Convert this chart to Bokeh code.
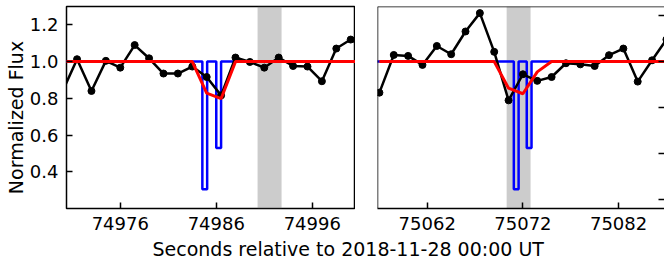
from bokeh.plotting import figure
from bokeh.models import (Range1d, FixedTicker, BoxAnnotation, Span, Label,
                          CustomJSTickFormatter, PrintfTickFormatter)
from bokeh.layouts import row, column
from bokeh.embed import file_html
from bokeh.resources import INLINE

FONT = "DejaVu Sans"

# ---------------- data: left event ----------------
t_left = [74970.0, 74971.5, 74973.0, 74974.5, 74976.0, 74977.5, 74979.0, 74980.5,
          74982.0, 74983.5, 74985.0, 74986.5, 74988.0, 74989.5, 74991.0, 74992.5,
          74994.0, 74995.5, 74997.0, 74998.5, 75000.0, 75001.5]
flux_left = [0.84, 1.013, 0.84, 1.004, 0.967, 1.09, 1.018, 0.935,
             0.935, 0.973, 0.916, 0.816, 1.022, 0.998, 0.967, 1.022,
             0.976, 0.973, 0.893, 1.071, 1.12, 1.08]
model_left = [1.0, 1.0, 1.0, 1.0, 1.0, 1.0, 1.0, 1.0,
              1.0, 1.0, 0.828, 0.798, 1.0, 1.0, 1.0, 1.0,
              1.0, 1.0, 1.0, 1.0, 1.0, 1.0]
step_x_left = [74969.0, 74984.55, 74985.05, 74986.0, 74986.5, 75002.0]
step_y_left = [1.0, 0.305, 1.0, 0.53, 1.0, 1.0]
band_left = [74990.3, 74992.8]
xticks_left = [74976, 74986, 74996]
yticks_left = [0.4, 0.6, 0.8, 1.0, 1.2]
xlim_left = [74970.4, 75000.5]

# ---------------- data: right event ----------------
t_right = [75057.0, 75058.5, 75060.0, 75061.5, 75063.0, 75064.5, 75066.0, 75067.5,
           75069.0, 75070.5, 75072.0, 75073.5, 75075.0, 75076.5, 75078.0, 75079.5,
           75081.0, 75082.5, 75084.0, 75085.5, 75087.0]
flux_right = [0.831, 1.036, 1.031, 0.982, 1.085, 1.04, 1.164, 1.264,
              1.053, 0.789, 0.931, 0.895, 0.916, 0.991, 0.985, 0.976,
              1.035, 1.071, 0.891, 1.007, 1.12]
model_right = [1.0, 1.0, 1.0, 1.0, 1.0, 1.0, 1.0, 1.0,
               1.0, 0.855, 0.825, 0.944, 1.0, 1.0, 1.0, 1.0,
               1.0, 1.0, 1.0, 1.0, 1.0]
step_x_right = [75055.0, 75071.05, 75071.55, 75072.4, 75072.9, 75088.0]
step_y_right = [1.0, 0.305, 1.0, 0.53, 1.0, 1.0]
band_right = [75070.3, 75072.8]
xticks_right = [75062, 75072, 75082]
yticks_right = [0.25, 0.5, 0.75, 1.0, 1.25]
xlim_right = [75056.8, 75086.8]

ylim = [0.2, 1.3]

x_label = "Seconds relative to 2018-11-28 00:00 UT"
y_label = "Normalized Flux"

TICK_FS = "18px"
LABEL_FS = "19px"


def style_axis(ax, ticks):
    ax.ticker = FixedTicker(ticks=ticks)
    ax.major_tick_in = 6
    ax.major_tick_out = 0
    ax.minor_tick_line_color = None
    ax.major_tick_line_width = 1.5
    ax.major_tick_line_color = "black"
    ax.major_label_text_font = FONT
    ax.major_label_text_font_size = TICK_FS
    ax.major_label_text_color = "black"


def draw(p, t, flux, model, sx, sy, band):
    p.add_layout(BoxAnnotation(left=band[0], right=band[1], fill_color="#808080",
                               fill_alpha=0.4, line_color=None, level="underlay"))
    p.step(sx, sy, mode="after", line_color="blue", line_width=2.5)
    p.line(t, flux, line_color="black", line_width=2.5)
    p.scatter(t, flux, size=7, fill_color="black", line_color="black")
    p.line(t, model, line_color="red", line_width=3)


def blank(width, height):
    b = figure(width=width, height=height, x_range=Range1d(0, width),
               y_range=Range1d(0, height), output_backend="svg",
               toolbar_location=None, x_axis_location=None, y_axis_location=None,
               min_border=0)
    b.grid.visible = False
    b.outline_line_color = None
    return b


# ---------------- left panel ----------------
p1 = figure(frame_width=289, frame_height=202,
            x_range=Range1d(*xlim_left), y_range=Range1d(*ylim),
            output_backend="svg", toolbar_location=None,
            min_border_left=40, min_border_right=0, min_border_top=6,
            min_border_bottom=31)
p1.grid.visible = False
p1.outline_line_color = "black"
p1.outline_line_width = 1.5
p1.outline_line_alpha = 1.0
style_axis(p1.xaxis[0], xticks_left)
style_axis(p1.yaxis[0], yticks_left)
p1.yaxis.formatter = PrintfTickFormatter(format="%.1f")
p1.xaxis.axis_line_color = None
p1.yaxis.axis_line_color = None
p1.xaxis.major_label_standoff = 8
p1.yaxis.major_label_standoff = 8
draw(p1, t_left, flux_left, model_left, step_x_left, step_y_left, band_left)

# ---------------- right panel ----------------
p2 = figure(frame_width=287, frame_height=202,
            x_range=Range1d(*xlim_right), y_range=Range1d(*ylim),
            output_backend="svg", toolbar_location=None,
            y_axis_location="right",
            min_border_left=22, min_border_right=0, min_border_top=6,
            min_border_bottom=31)
p2.grid.visible = False
p2.outline_line_color = None
style_axis(p2.xaxis[0], xticks_right)
style_axis(p2.yaxis[0], yticks_right)
p2.xaxis.axis_line_color = "black"
p2.xaxis.axis_line_width = 1.5
p2.xaxis.major_label_standoff = 8
p2.yaxis.axis_line_color = None
p2.yaxis.major_label_standoff = 0
p2.yaxis.formatter = CustomJSTickFormatter(code="return ''")
p2.add_layout(Span(location=ylim[1], dimension="width", line_color="black", line_width=1.5))
p2.add_layout(Span(location=xlim_right[0], dimension="height", line_color="black", line_width=1.5))
draw(p2, t_right, flux_right, model_right, step_x_right, step_y_right, band_right)

# ---------------- shared axis labels ----------------
p0 = blank(26, 262)
p0.add_layout(Label(x=15.5, y=145, text=y_label, angle=90, angle_units="deg",
                    text_align="center", text_baseline="alphabetic",
                    text_font=FONT, text_font_size=LABEL_FS, text_color="black"))

p3 = blank(638, 23)
p3.add_layout(Label(x=321.7, y=13.5, text=x_label,
                    text_align="center", text_baseline="alphabetic",
                    text_font=FONT, text_font_size=LABEL_FS, text_color="black"))

layout = row(p0, column(row(p1, p2), p3))

with open("out.html", "w") as f:
    f.write(file_html(layout, INLINE))
